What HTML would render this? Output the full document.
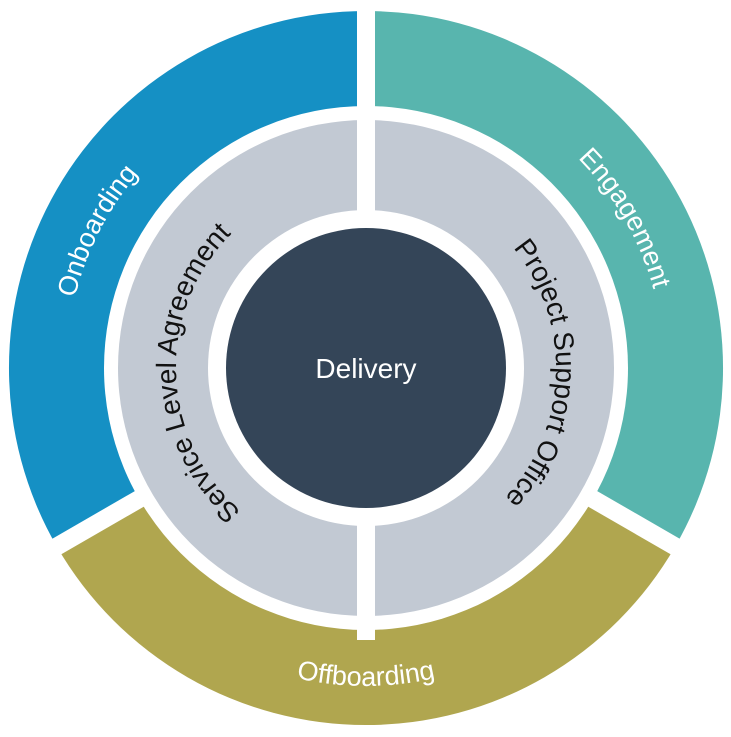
<!DOCTYPE html>
<html><head><meta charset="utf-8"><style>html,body{margin:0;padding:0;background:#fff}svg{display:block}</style></head>
<body>
<svg width="731" height="737" viewBox="0 0 731 737" xmlns="http://www.w3.org/2000/svg" font-family="'Liberation Sans', sans-serif">
<defs>
<path id="pOn" d="M229.8 635.3 A300 300 0 0 1 502.2 100.7"/>
<path id="pEn" d="M216 108.2 A300 300 0 0 1 516 627.8"/>
<path id="pOff" d="M48 368 A318 318 0 0 0 684 368"/>
<path id="pSla" d="M372.6 557.9 A190 190 0 0 1 359.4 178.1"/>
<path id="pPso" d="M372.6 178.1 A190 190 0 0 1 359.4 557.9"/>
</defs>
<path d="M366 368 L56.8 546.5 A357 357 0 0 1 366 11 Z" fill="#1590c4"/>
<path d="M366 368 L366 11 A357 357 0 0 1 675.2 546.5 Z" fill="#58b5ae"/>
<path d="M366 368 L675.2 546.5 A357 357 0 0 1 56.8 546.5 Z" fill="#b0a64f"/>
<g stroke="#fff" stroke-width="18">
<line x1="366" y1="368" x2="366" y2="0"/>
<line x1="366" y1="368" x2="19.6" y2="568"/>
<line x1="366" y1="368" x2="712.4" y2="568"/>
</g>
<circle cx="366" cy="368" r="262" fill="#fff"/>
<circle cx="366" cy="368" r="248" fill="#c2c9d3"/>
<line x1="366" y1="100" x2="366" y2="640" stroke="#fff" stroke-width="18"/>
<circle cx="366" cy="368" r="158" fill="#fff"/>
<circle cx="366" cy="368" r="140" fill="#344558"/>
<text x="366" y="378" fill="#fff" font-size="28" text-anchor="middle">Delivery</text>
<g font-size="27" fill="#fff" text-anchor="middle">
<text><textPath href="#pOn" startOffset="50%">Onboarding</textPath></text>
<text><textPath href="#pEn" startOffset="50%">Engagement</textPath></text>
<text><textPath href="#pOff" startOffset="50%">Offboarding</textPath></text>
</g>
<g font-size="28" fill="#111" text-anchor="middle">
<text><textPath href="#pSla" startOffset="50%">Service Level Agreement</textPath></text>
<text><textPath href="#pPso" startOffset="50%">Project Support Office</textPath></text>
</g>
</svg>
</body></html>
